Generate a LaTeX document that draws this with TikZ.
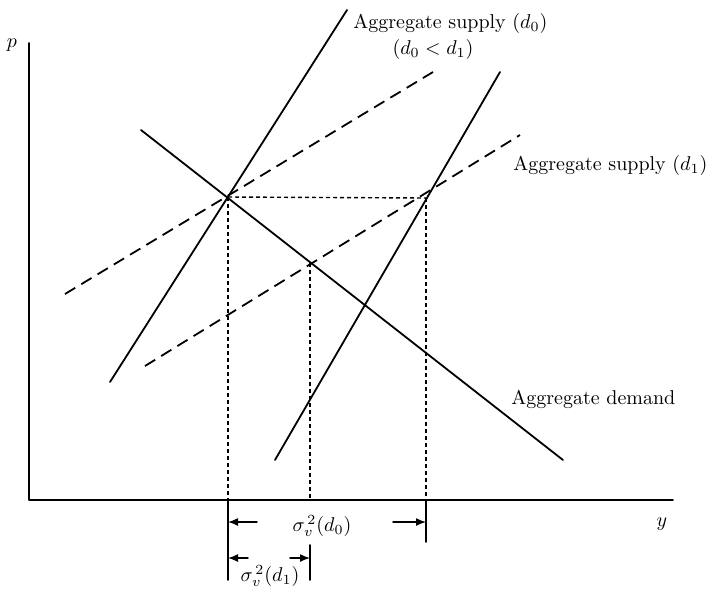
\documentclass[tikz,border=0pt]{standalone}
\usetikzlibrary{arrows.meta}
\begin{document}
\begin{tikzpicture}[x=0.5pt,y=-0.5pt,line cap=round,line join=round,
    curve/.style={line width=0.9pt},
    shifted/.style={line width=0.9pt,line cap=butt,dash pattern=on 6pt off 3.5pt},
    guide/.style={line width=0.7pt,line cap=butt,dash pattern=on 2pt off 1.5pt},
    span/.style={line width=0.7pt,-{Latex[length=5pt,width=4pt]}},
    lab/.style={inner sep=0pt,anchor=base west}]
  \useasboundingbox (0,0) rectangle (713,591);
  % axes
  \coordinate (O) at (29,500);
  \coordinate (ptop) at (29,43);
  \coordinate (yend) at (673,500);
  \draw[curve] (ptop) -- (O) -- (yend);
  \node (plab) at (12,45) {$p$};
  \node (ylab) at (662,524) {$y$};
  % equilibria
  \coordinate (E0) at (228,197);
  \coordinate (E1) at (426,198);
  \coordinate (E2) at (310,263);
  % demand and the two supply schedules
  \coordinate (dem-a) at (141,130); \coordinate (dem-b) at (563,460);
  \coordinate (s0-a) at (110,382);  \coordinate (s0-b) at (347,10);
  \coordinate (s0d-a) at (65,294);  \coordinate (s0d-b) at (433,72);
  \coordinate (s1-a) at (275,460);  \coordinate (s1-b) at (500,72);
  \coordinate (s1d-a) at (145,366); \coordinate (s1d-b) at (520,135);
  \draw[curve] (dem-a) -- (dem-b);
  \draw[curve] (s0-a) -- (s0-b);
  \draw[curve] (s1-a) -- (s1-b);
  \draw[shifted] (s0d-a) -- (s0d-b);
  \draw[shifted] (s1d-a) -- (s1d-b);
  % guides down to the axis
  \draw[guide] (E0) -- (E1);
  \foreach \e in {E0,E1,E2}{\draw[guide] (\e) -- (\e |- O);}
  % ticks and spans below the axis
  \coordinate (t0) at (228,580);
  \coordinate (t1) at (426,542);
  \coordinate (t2a) at (310,545); \coordinate (t2b) at (310,580);
  \draw[curve] (E0 |- O) -- (t0);
  \draw[curve] (E1 |- O) -- (t1);
  \draw[curve] (t2a) -- (t2b);
  \coordinate (u0) at (257,522); \coordinate (u1) at (393,522);
  \coordinate (v0) at (248,558); \coordinate (v1) at (290,558);
  \draw[span] (u0) -- (u0 -| t0);
  \draw[span] (u1) -- (u1 -| t1);
  \draw[span] (v0) -- (v0 -| t0);
  \draw[span] (v1) -- (v1 -| t2a);
  \node[inner sep=0.5pt] (var0) at (322,526) {$\sigma_v^{\,2}(d_0)$};
  \node[inner sep=0.5pt] (var1) at (270,576) {$\sigma_v^{\,2}(d_1)$};
  % labels
  \node[lab] (as0) at (353,28) {Aggregate supply ($d_0$)};
  \node (cmp) at (433,49) {($d_0 < d_1$)};
  \node[lab] (as1) at (513,170) {Aggregate supply ($d_1$)};
  \node[lab] (ad) at (511,404) {Aggregate demand};
\end{tikzpicture}
\end{document}
